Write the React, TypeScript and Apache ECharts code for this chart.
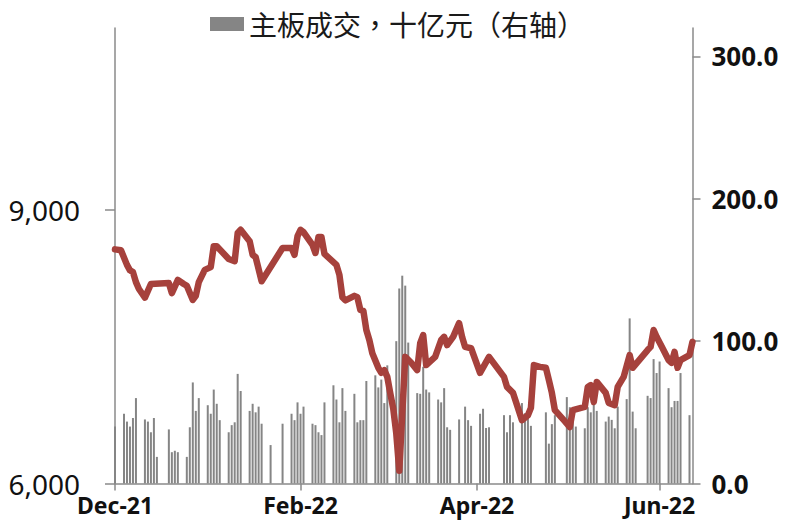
import React, { useEffect, useRef } from "react";
import * as echarts from "echarts";

const barName = "主板成交，十亿元（右轴）";

const barDates = [
  "2021-12-03","2021-12-06","2021-12-07","2021-12-08","2021-12-09","2021-12-10",
  "2021-12-13","2021-12-14","2021-12-15","2021-12-16","2021-12-17",
  "2021-12-21","2021-12-22","2021-12-23","2021-12-24",
  "2021-12-27","2021-12-28","2021-12-29","2021-12-30","2021-12-31",
  "2022-01-03","2022-01-04","2022-01-05","2022-01-06","2022-01-07",
  "2022-01-10","2022-01-11","2022-01-12","2022-01-13","2022-01-14",
  "2022-01-17","2022-01-18","2022-01-19","2022-01-20","2022-01-21",
  "2022-01-24","2022-01-28",
  "2022-01-31","2022-02-01","2022-02-02","2022-02-03","2022-02-04",
  "2022-02-07","2022-02-08","2022-02-09","2022-02-10","2022-02-11",
  "2022-02-14","2022-02-15","2022-02-16","2022-02-17","2022-02-18",
  "2022-02-21","2022-02-22","2022-02-23","2022-02-24","2022-02-25",
  "2022-02-28","2022-03-01","2022-03-02","2022-03-03","2022-03-04",
  "2022-03-07","2022-03-08","2022-03-09","2022-03-10","2022-03-11",
  "2022-03-14","2022-03-15","2022-03-16","2022-03-17","2022-03-18",
  "2022-03-21","2022-03-22","2022-03-23","2022-03-24","2022-03-25",
  "2022-03-28","2022-03-30","2022-03-31","2022-04-01",
  "2022-04-04","2022-04-05","2022-04-06","2022-04-07",
  "2022-04-12","2022-04-13","2022-04-14","2022-04-15",
  "2022-04-18","2022-04-19","2022-04-20","2022-04-21",
  "2022-04-26","2022-04-27","2022-04-28","2022-04-29",
  "2022-05-03","2022-05-04","2022-05-05","2022-05-06",
  "2022-05-09","2022-05-10","2022-05-11","2022-05-12","2022-05-13",
  "2022-05-16","2022-05-17","2022-05-18","2022-05-19","2022-05-20",
  "2022-05-23","2022-05-24","2022-05-25","2022-05-26",
  "2022-05-30","2022-05-31","2022-06-01","2022-06-02","2022-06-03",
  "2022-06-06","2022-06-07","2022-06-08","2022-06-09","2022-06-10",
  "2022-06-13"
];

const barValues = [
  40, 49, 43.5, 40, 46, 60,
  45, 43.5, 36, 46, 18.7,
  38, 22, 23, 22,
  18.7, 39.5, 71, 51, 60,
  55, 49, 66, 56, 44.5,
  36, 41, 43, 77, 65,
  51, 56, 50, 54, 42,
  27, 42,
  49, 44.5, 57, 49, 54,
  42, 41, 36, 34, 57,
  69, 59, 43, 67, 51,
  63, 43, 44.5, 44.5, 72,
  76, 67.5, 73, 56.5, 83,
  100, 137, 146, 139, 99,
  63.5, 63, 82, 66, 64,
  59, 57, 67, 39.5, 37.7,
  45, 54, 44.5, 40.5,
  49, 52.5, 39, 39.5,
  48, 36, 48, 43,
  56.5, 49.4, 47, 40.5,
  50, 28, 41.7, 48,
  60.7, 53.6, 44.7, 40,
  38.8, 53.6, 50, 58.8, 51,
  43.5, 47, 44.7, 38.8, 54,
  59.3, 116, 50.5, 38.8,
  61.6, 60, 87.4, 77.6, 85.7,
  67, 53.6, 58, 58, 77.6,
  48
];

const lineDates = [
  "2021-12-03","2021-12-05","2021-12-07","2021-12-08","2021-12-09","2021-12-10",
  "2021-12-11","2021-12-13","2021-12-15","2021-12-21","2021-12-22","2021-12-24",
  "2021-12-26","2021-12-27","2021-12-29","2021-12-30","2021-12-31",
  "2022-01-02","2022-01-04","2022-01-05","2022-01-06","2022-01-10","2022-01-12",
  "2022-01-13","2022-01-14","2022-01-17","2022-01-18","2022-01-19","2022-01-21",
  "2022-01-28","2022-01-31","2022-02-01","2022-02-02","2022-02-03","2022-02-04",
  "2022-02-07","2022-02-08","2022-02-09","2022-02-10","2022-02-11",
  "2022-02-14","2022-02-15","2022-02-16","2022-02-17","2022-02-18",
  "2022-02-21","2022-02-22","2022-02-23","2022-02-24","2022-02-25",
  "2022-02-26","2022-02-27","2022-03-01","2022-03-02","2022-03-03","2022-03-04",
  "2022-03-05","2022-03-06","2022-03-07","2022-03-08","2022-03-10","2022-03-12",
  "2022-03-14","2022-03-15","2022-03-16","2022-03-17","2022-03-20","2022-03-22",
  "2022-03-23","2022-03-24","2022-03-26","2022-03-28","2022-03-29","2022-03-30",
  "2022-04-01","2022-04-04","2022-04-07","2022-04-12","2022-04-13","2022-04-15",
  "2022-04-18","2022-04-20","2022-04-21","2022-04-22","2022-04-24","2022-04-26",
  "2022-04-27","2022-04-28","2022-04-29","2022-05-02","2022-05-04","2022-05-05",
  "2022-05-09","2022-05-10","2022-05-11","2022-05-12","2022-05-13",
  "2022-05-16","2022-05-17","2022-05-19","2022-05-20","2022-05-22","2022-05-24",
  "2022-05-25","2022-05-30","2022-05-31","2022-06-01","2022-06-02","2022-06-04",
  "2022-06-06","2022-06-07","2022-06-08","2022-06-09","2022-06-10","2022-06-13",
  "2022-06-14"
];

const lineValues = [
  8570, 8560, 8400, 8340, 8320, 8210,
  8135, 8040, 8190, 8200, 8090, 8235,
  8190, 8170, 8015, 8060, 8210,
  8345, 8375, 8605, 8605, 8465, 8440,
  8750, 8785, 8660, 8510, 8485, 8220,
  8585, 8585, 8510, 8715, 8785, 8760,
  8620, 8530, 8705, 8705, 8520,
  8430, 8400, 8290, 8045, 8010,
  8060, 8045, 7905, 7895, 7685,
  7575, 7430, 7270, 7215, 7245, 7170,
  6990, 6820, 6550, 6140, 7390, 7325,
  7245, 7540, 7630, 7300, 7390, 7575,
  7610, 7520, 7610, 7760, 7610, 7500,
  7485, 7215, 7390, 7170, 7060, 6995,
  6695, 6750, 6830, 7300, 7280, 7270,
  7135, 6995, 6805, 6695, 6620, 6805,
  6840, 7060, 7080, 6895, 7115,
  6995, 6885, 6860, 7060, 7170, 7410,
  7270, 7465, 7500, 7685, 7610, 7485,
  7355, 7325, 7445, 7270, 7355, 7410,
  7555
];

const xMin = "2021-12-03";
const xMax = "2022-06-14";
const xTickDates = ["2021-12-03", "2022-02-03", "2022-04-03", "2022-06-03"];
const xTickLabels = ["Dec-21", "Feb-22", "Apr-22", "Jun-22"];
const leftTicks = [6000, 9000];
const rightTicks = [0, 100, 200, 300];

function toTs(s: string): number {
  const [y, m, d] = s.split("-").map(Number);
  return new Date(y, m - 1, d).getTime();
}

export default function App() {
  const ref = useRef<HTMLDivElement>(null);
  useEffect(() => {
    if (!ref.current) return;
    const chart = echarts.init(ref.current, null, { renderer: "svg" });
    const tickTs = xTickDates.map(toTs);
    const axisColor = "#8a8a8a";
    chart.setOption({
      animation: false,
      textStyle: { fontFamily: "Noto Sans" },
      legend: {
        data: [barName],
        left: 210,
        top: 10,
        padding: 0,
        icon: "rect",
        itemWidth: 34,
        itemHeight: 14,
        itemGap: 4,
        textStyle: { fontSize: 28, fontFamily: "Noto Sans CJK TC", color: "#1a1a1a" },
      },
      grid: { left: 115, right: 99.5, top: 28, bottom: 37.5 },
      xAxis: {
        type: "value",
        min: toTs(xMin),
        max: toTs(xMax),
        splitLine: { show: false },
        axisLine: { lineStyle: { color: axisColor, width: 1.5 } },
        axisTick: { show: true, length: 7, customValues: tickTs, lineStyle: { color: axisColor, width: 1.5 } },
        axisLabel: {
          customValues: tickTs,
          margin: 10,
          fontSize: 23,
          fontWeight: "bold",
          color: "#111",
          fontFamily: "Noto Sans",
          formatter: (v: number) => {
            const i = tickTs.findIndex((t) => Math.abs(t - v) < 86400000);
            return i >= 0 ? xTickLabels[i] : "";
          },
        },
      },
      yAxis: [
        {
          type: "value",
          min: 6000,
          max: 11000,
          position: "left",
          splitLine: { show: false },
          axisLine: { show: true, lineStyle: { color: axisColor, width: 1.5 } },
          axisTick: { show: true, length: 10, customValues: leftTicks, lineStyle: { color: axisColor, width: 1.5 } },
          axisLabel: {
            customValues: leftTicks,
            margin: 35,
            fontSize: 28,
            color: "#111",
            fontFamily: "Noto Sans",
            formatter: (v: number) => v.toLocaleString("en-US"),
          },
        },
        {
          type: "value",
          min: 0,
          max: 320,
          position: "right",
          splitLine: { show: false },
          axisLine: { show: true, lineStyle: { color: axisColor, width: 1.5 } },
          axisTick: { show: true, length: 8, customValues: rightTicks, lineStyle: { color: axisColor, width: 1.5 } },
          axisLabel: {
            customValues: rightTicks,
            margin: 19,
            fontSize: 26,
            fontWeight: "bold",
            color: "#111",
            fontFamily: "Noto Sans",
            formatter: (v: number) => v.toFixed(1),
          },
        },
      ],
      series: [
        {
          name: barName,
          type: "bar",
          yAxisIndex: 1,
          barWidth: 2,
          itemStyle: { color: "#858585" },
          data: barDates.map((d, i) => [toTs(d), barValues[i]]),
        },
        {
          name: "line",
          type: "line",
          yAxisIndex: 0,
          showSymbol: false,
          symbol: "none",
          lineStyle: { color: "#A6413C", width: 6.5, join: "round", cap: "round" },
          data: lineDates.map((d, i) => [toTs(d), lineValues[i]]),
        },
      ],
    });
    return () => chart.dispose();
  }, []);
  return (
    <div
      ref={ref}
      style={{ position: "fixed", left: 0, top: 0, width: 792, height: 521, background: "#fff" }}
    />
  );
}
